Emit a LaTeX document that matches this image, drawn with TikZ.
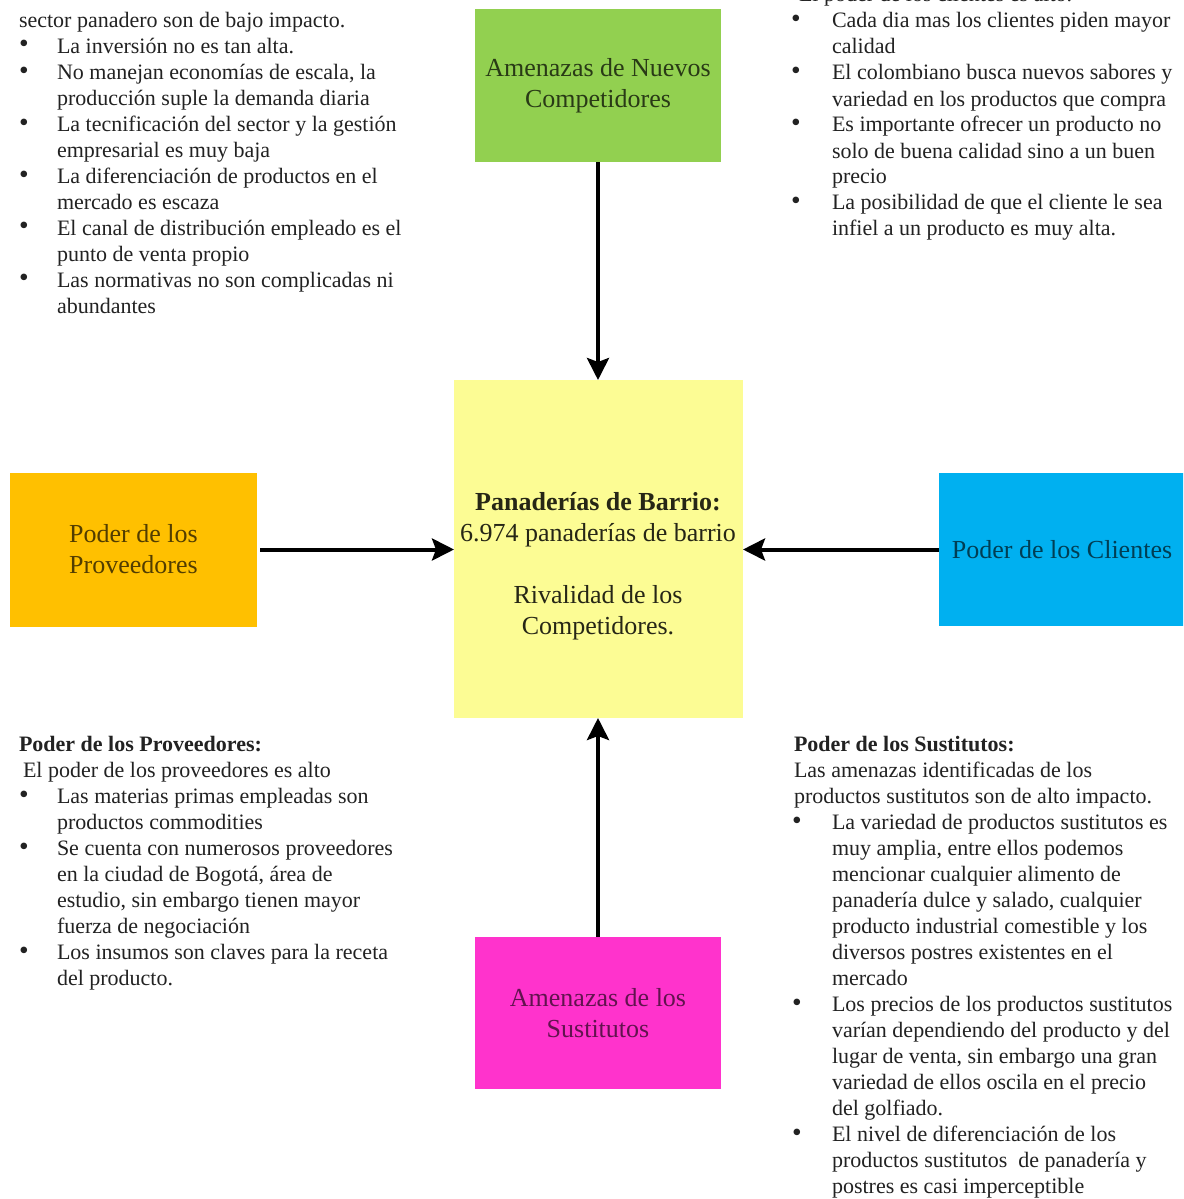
\documentclass[tikz,border=0pt]{standalone}
\usepackage{fontspec}
\usepackage{graphicx}
\setmainfont{Liberation Serif}
\usetikzlibrary{arrows.meta}

\definecolor{fgreen}{RGB}{146,208,80}
\definecolor{fyellow}{RGB}{252,252,148}
\definecolor{forange}{RGB}{255,192,0}
\definecolor{fblue}{RGB}{0,176,240}
\definecolor{fpink}{RGB}{255,51,204}
\definecolor{bodytext}{RGB}{34,34,34}

% bullet paragraph with hanging indent; \\ breaks lines inside the item
\newcommand\bitem[2][19pt]{\par\hangindent=#1\hangafter=1\noindent\makebox[#1][l]{\scalebox{1.25}{\textbullet}}#2}
\newcommand\plain[1]{\par\noindent #1}

\tikzset{
  force/.style={rectangle, inner sep=0pt, outer sep=0pt, align=center,
    font=\fontsize{13pt}{15.5pt}\selectfont},
  notes/.style={inner sep=0pt, outer sep=0pt, anchor=base west, text=bodytext,
    font=\fontsize{11pt}{13pt}\selectfont},
  arr/.style={line width=2pt, -{Stealth[length=11pt,width=11pt,inset=2pt]}}
}

\begin{document}
\begin{tikzpicture}[x=0.5pt, y=-0.5pt]
\useasboundingbox (0,0) rectangle (1183,1199);
\fill[white] (0,0) rectangle (1183,1199);
\clip (0,0) rectangle (1183,1199);

% the five forces
\node[force, fill=fgreen, minimum width=123pt, minimum height=76.5pt,
      text=black!72!fgreen] (nuevos) at (598,85.5)
  {Amenazas de Nuevos\\Competidores};
\node[force, fill=fyellow, minimum width=144.5pt, minimum height=169pt] (core) at (598.5,549) {};
\node[force, text=black!85!fyellow] (coretxt) at (598,566)
  {\textbf{Panaderías de Barrio:}\\6.974 panaderías de barrio\\[15.5pt]Rivalidad de los\\Competidores.};
\node[force, fill=forange, minimum width=123.5pt, minimum height=77pt,
      text=black!68!forange] (prov) at (133.5,549.5)
  {Poder de los\\Proveedores};
\node[force, fill=fblue, minimum width=123pt, minimum height=76.5pt,
      text=black!65!fblue] (clientes) at (1062,549.5)
  {Poder de los Clientes};
\node[force, fill=fpink, minimum width=123pt, minimum height=76pt,
      text=black!62!fpink] (sust) at (598,1013)
  {Amenazas de los\\Sustitutos};

% connectors towards the centre
\draw[arr] (nuevos.south) -- (nuevos.south |- core.north);
\draw[arr] (sust.north) -- (sust.north |- core.south);
\draw[arr, shorten <=1.5pt] (prov.east) -- (prov.east -| core.west);
\draw[arr] (clientes.west) -- (clientes.west -| core.east);

% notes: new entrants
\node[notes] (ntl) at (19,27) {\parbox[t]{215pt}{%
\plain{sector panadero son de bajo impacto.}
\bitem{La inversión no es tan alta.}
\bitem{No manejan economías de escala, la\\producción suple la demanda diaria}
\bitem{La tecnificación del sector y la gestión\\empresarial es muy baja}
\bitem{La diferenciación de productos en el\\mercado es escaza}
\bitem{El canal de distribución empleado es el\\punto de venta propio}
\bitem{Las normativas no son complicadas ni\\abundantes}}};

% notes: clients
\node[notes] (ntr) at (791,2) {\parbox[t]{200pt}{%
\plain{\hspace{4pt}El poder de los clientes es alto.}
\bitem[20.5pt]{Cada dia mas los clientes piden mayor\\calidad}
\bitem[20.5pt]{El colombiano busca nuevos sabores y\\variedad en los productos que compra}
\bitem[20.5pt]{Es importante ofrecer un producto no\\solo de buena calidad sino a un buen\\precio}
\bitem[20.5pt]{La posibilidad de que el cliente le sea\\infiel a un producto es muy alta.}}};

% notes: suppliers
\node[notes] (nbl) at (19,751) {\parbox[t]{215pt}{%
\plain{\textbf{Poder de los Proveedores:}}
\plain{\hspace{2pt}El poder de los proveedores es alto}
\bitem{Las materias primas empleadas son\\productos commodities}
\bitem{Se cuenta con numerosos proveedores\\en la ciudad de Bogotá, área de\\estudio, sin embargo tienen mayor\\fuerza de negociación}
\bitem{Los insumos son claves para la receta\\del producto.}}};

% notes: substitutes
\node[notes] (nbr) at (792,751) {\parbox[t]{200pt}{%
\plain{\hspace{1pt}\textbf{Poder de los Sustitutos:}}
\plain{\hspace{1pt}Las amenazas identificadas de los}
\plain{\hspace{1pt}productos sustitutos son de alto impacto.}
\bitem[20pt]{La variedad de productos sustitutos es\\muy amplia, entre ellos podemos\\mencionar cualquier alimento de\\panadería dulce y salado, cualquier\\producto industrial comestible y los\\diversos postres existentes en el\\mercado}
\bitem[20pt]{Los precios de los productos sustitutos\\varían dependiendo del producto y del\\lugar de venta, sin embargo una gran\\variedad de ellos oscila en el precio\\del golfiado.}
\bitem[20pt]{El nivel de diferenciación de los\\productos sustitutos\ \ de panadería y\\postres es casi imperceptible}}};
\end{tikzpicture}
\end{document}
